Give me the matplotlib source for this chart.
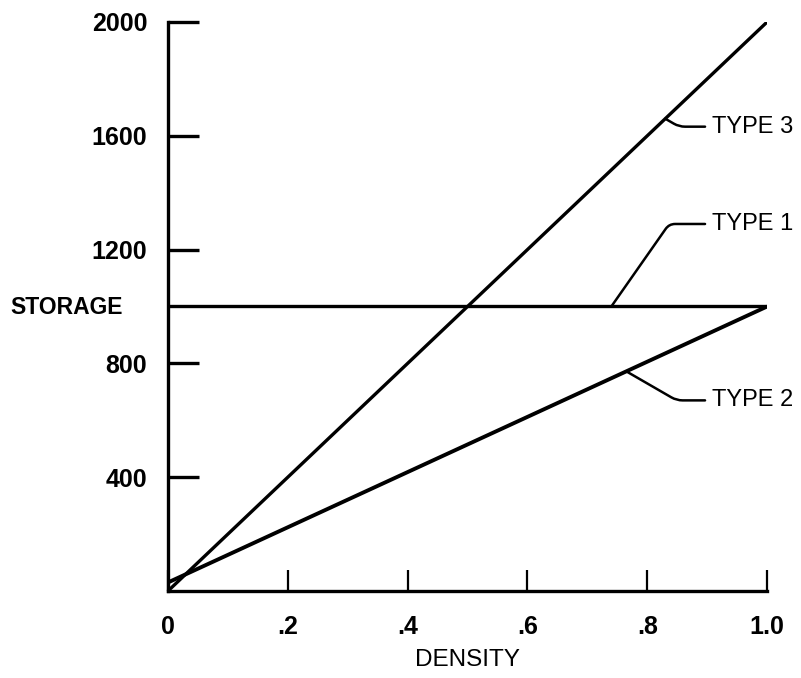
import matplotlib
matplotlib.use('Agg')

import numpy as np
import matplotlib.pyplot as plt

# density axis end points and storage for each type
density = [0.0, 1.0]
type1 = [1000, 1000]
type2 = [30, 1000]
type3 = [0, 2000]

xticks = [0, 0.2, 0.4, 0.6, 0.8, 1.0]
xticklabels = ['0', '.2', '.4', '.6', '.8', '1.0']
yticks = [400, 800, 1200, 1600, 2000]
yticklabels = ['400', '800', '1200', '1600', '2000']

# label: (series, x where leader touches the line, text position)
labels = [
    ('TYPE 3', type3, 0.83, (0.908, 1632)),
    ('TYPE 1', type1, 0.74, (0.908, 1290)),
    ('TYPE 2', type2, 0.765, (0.908, 670)),
]

plt.rcParams['font.family'] = ['Liberation Sans', 'DejaVu Sans']

fig = plt.figure(figsize=(8.01, 6.78), dpi=100)
ax = fig.add_axes([0.2097, 0.1283, 0.748, 0.8393])

lw = 2.4
ax.plot(density, type1, color='black', lw=lw, solid_capstyle='butt')
ax.plot(density, type2, color='black', lw=lw + 0.4, solid_capstyle='butt')
ax.plot(density, type3, color='black', lw=lw, solid_capstyle='butt')

for text, series, xp, (tx, ty) in labels:
    yp = np.interp(xp, density, series)
    ax.annotate(text, xy=(xp, yp), xytext=(tx, ty), ha='left', va='center',
                fontsize=17, annotation_clip=False,
                arrowprops=dict(arrowstyle='-', lw=1.8, color='black',
                                shrinkA=3, shrinkB=0, relpos=(0, 0.5),
                                connectionstyle='angle,angleA=180,angleB=%d,rad=6'
                                % (55 if ty > yp else -30)))

ax.set_xlim(0, 1.0)
ax.set_ylim(0, 2000)
ax.spines['top'].set_visible(False)
ax.spines['right'].set_visible(False)
for s in ['left', 'bottom']:
    ax.spines[s].set_linewidth(2.4)

ax.set_xticks(xticks)
ax.set_xticklabels(xticklabels, fontsize=18, fontweight='bold')
ax.set_yticks(yticks)
ax.set_yticklabels(yticklabels, fontsize=18, fontweight='bold')
ax.tick_params(axis='x', direction='in', length=15, width=1.6, pad=17)
ax.tick_params(axis='y', direction='in', length=22, width=2.4, pad=15)

ax.set_xlabel('DENSITY', fontsize=17.5, va='center')
ax.xaxis.set_label_coords(0.5, -0.121)
ax.set_ylabel('STORAGE', fontsize=16.5, fontweight='bold', rotation=0,
              ha='center', va='center')
ax.yaxis.set_label_coords(-0.17, 0.499)

fig.savefig('out.png', dpi=100)
